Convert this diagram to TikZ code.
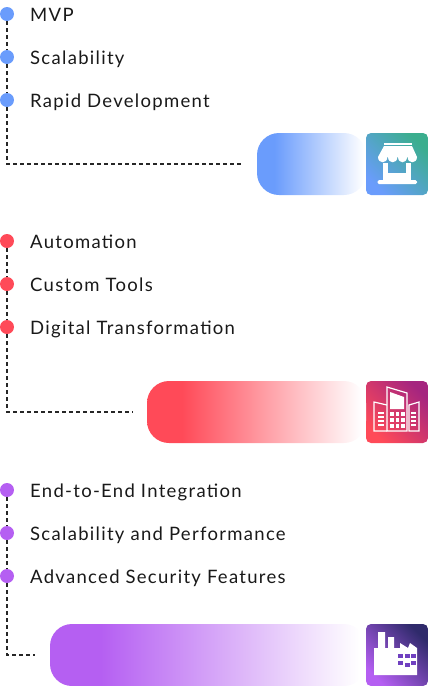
\documentclass[tikz,border=0pt]{standalone}
\usepackage{fontspec}
\setmainfont{Lato}[LetterSpace=7]
\usepackage{xcolor}
\usetikzlibrary{positioning,calc}

\definecolor{shopblue}{HTML}{6A9CFC}
\definecolor{shopgreen}{HTML}{3BAE8E}
\definecolor{cityred}{HTML}{FF4A58}
\definecolor{citywine}{HTML}{A5257F}
\definecolor{plantpurple}{HTML}{B55FF2}
\definecolor{plantnavy}{HTML}{2F2A6B}
\definecolor{plantwindow}{HTML}{7040C0}

\pgfdeclarehorizontalshading{shopfade}{100bp}{color(0bp)=(shopblue); color(33bp)=(shopblue); color(74bp)=(white); color(100bp)=(white)}
\pgfdeclarehorizontalshading{cityfade}{100bp}{color(0bp)=(cityred); color(33bp)=(cityred); color(74bp)=(white); color(100bp)=(white)}
\pgfdeclarehorizontalshading{plantfade}{100bp}{color(0bp)=(plantpurple); color(33bp)=(plantpurple); color(74bp)=(white); color(100bp)=(white)}

\begin{document}
\begin{tikzpicture}[
  x=1pt, y=-1pt,
  bullet/.style={circle, fill=#1, minimum size=14pt, inner sep=0pt, outer sep=0pt},
  item/.style={inner sep=0pt, text height=14.5pt, text depth=0pt, font=\fontsize{18.5}{22}\selectfont, text=black!90},
  bar/.style={rectangle, rounded corners=22pt, minimum height=62pt, inner sep=0pt, outer sep=0pt},
  badge/.style 2 args={rectangle, rounded corners=5pt, minimum size=62pt, inner sep=0pt, outer sep=0pt,
                bottom color=#1, top color=#2, shading angle=-45},
  link/.style={draw=black!85, line width=1.5pt, dash pattern=on 4pt off 3pt},
  ink/.style={fill=white, draw=none},
  outline/.style={draw=white, line width=1.2pt, fill=none}
]
  \useasboundingbox (0,0) rectangle (428,686);

  % first group
  \node[bullet=shopblue] (mvp) at (7,14) {};
  \node[bullet=shopblue, below=29pt of mvp] (scale) {};
  \node[bullet=shopblue, below=29pt of scale] (rapid) {};
  \node[item, right=16pt of mvp] (mvptext) {MVP};
  \node[item, right=16pt of scale] (scaletext) {Scalability};
  \node[item, right=16pt of rapid] (rapidtext) {Rapid Development};
  \node[badge={shopblue}{shopgreen}] (shop) at (397,164) {};
  \node[bar, shading=shopfade, left=0pt of shop, minimum width=109pt] (shopbar) {};
  \coordinate (shopturn) at (rapid |- shopbar);
  \coordinate (shopend) at ($(shopbar.west)+(-14,0)$);
  \draw[link] (mvp) -- (scale);
  \draw[link] (scale) -- (rapid);
  \draw[link] (rapid) -- (shopturn) -- (shopend);

  % second group
  \node[bullet=cityred] (auto) at (7,241) {};
  \node[bullet=cityred, below=29pt of auto] (tools) {};
  \node[bullet=cityred, below=29pt of tools] (digital) {};
  \node[item, right=16pt of auto] (autotext) {Automation};
  \node[item, right=16pt of tools] (toolstext) {Custom Tools};
  \node[item, right=16pt of digital] (digitaltext) {Digital Transformation};
  \node[badge={cityred}{citywine}] (city) at (397,412) {};
  \node[bar, shading=cityfade, left=0pt of city, minimum width=219pt] (citybar) {};
  \coordinate (cityturn) at (digital |- citybar);
  \coordinate (cityend) at ($(citybar.west)+(-14,0)$);
  \draw[link] (auto) -- (tools);
  \draw[link] (tools) -- (digital);
  \draw[link] (digital) -- (cityturn) -- (cityend);

  % third group
  \node[bullet=plantpurple] (ends) at (7,490) {};
  \node[bullet=plantpurple, below=29pt of ends] (perf) {};
  \node[bullet=plantpurple, below=29pt of perf] (secure) {};
  \node[item, right=16pt of ends] (endstext) {End-to-End Integration};
  \node[item, right=16pt of perf] (perftext) {Scalability and Performance};
  \node[item, right=16pt of secure] (securetext) {Advanced Security Features};
  \node[badge={plantpurple}{plantnavy}] (plant) at (397,655) {};
  \node[bar, shading=plantfade, left=0pt of plant, minimum width=316pt] (plantbar) {};
  \coordinate (plantturn) at (secure |- plantbar);
  \coordinate (plantend) at ($(plantbar.west)+(-15,0)$);
  \draw[link] (ends) -- (perf);
  \draw[link] (perf) -- (secure);
  \draw[link] (secure) -- (plantturn) -- (plantend);

  % storefront
  \begin{scope}[shift={(shop.north west)}]
    \fill[ink] (18,10) rectangle (46,12);
    \fill[ink] (18,13) -- (46,13) -- (51,24) -- (12,24) -- cycle;
    \fill[ink] (12,24) .. controls (12,31) and (21.4,31) .. (21.4,24) -- cycle
               (22,24) .. controls (22,31) and (31.4,31) .. (31.4,24) -- cycle
               (32,24) .. controls (32,31) and (41,31) .. (41,24) -- cycle
               (41.6,24) .. controls (41.6,31) and (51,31) .. (51,24) -- cycle;
    \fill[ink] (17,30) rectangle (22,47);
    \fill[ink] (40,30) rectangle (45,47);
    \fill[ink] (22,40) rectangle (40,47);
    \fill[ink, rounded corners=1.5pt] (11.5,47) rectangle (51,51);
  \end{scope}

  % office blocks
  \begin{scope}[shift={(city.north west)}]
    \draw[outline] (21,50) -- (21,6) -- (41,12) -- (41,50) -- cycle;
    \draw[outline] (21,24) -- (8,21) -- (8,50) -- (21,50);
    \draw[outline] (43,24) -- (53,21) -- (53,50) -- (43,50) -- cycle;
    \fill[ink] (24,11) -- (38,16) -- (38,28) -- (24,28) -- cycle;
    \foreach \col in {24,29.5,35}
      \foreach \row in {31,37,43}
        \fill[ink] (\col,\row) rectangle ++(3.5,3.5);
    \foreach \row in {32,36,40,44} {
      \draw[outline] (12,\row) -- (18,\row);
      \draw[outline] (45,\row) -- (50,\row);
    }
  \end{scope}

  % factory
  \begin{scope}[shift={(plant.north west)}]
    \fill[ink] (8,51) -- (8,24) -- (12,24) -- (12,8) -- (19,8) -- (19,24) -- (22,24) -- (22,13)
      -- (28,13) -- (28,24) -- (34,24) -- (34,19) -- (42,24) -- (44,19) -- (51,24) -- (51,51) -- cycle;
    \fill[plantwindow] (32.3,30.3) rectangle ++(4.5,4);
    \fill[plantwindow] (39,30.3) rectangle ++(4.5,4);
    \fill[plantwindow] (45,30.3) rectangle ++(4.5,4);
    \fill[plantwindow] (32.3,36.7) rectangle ++(4.5,4);
    \fill[plantwindow] (39,38.7) rectangle ++(4.5,4);
    \fill[plantwindow] (45,36.7) rectangle ++(4.5,4);
  \end{scope}
\end{tikzpicture}
\end{document}
